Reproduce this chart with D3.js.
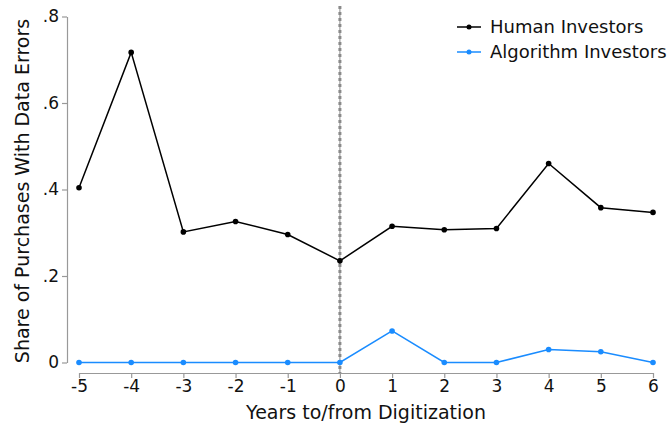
<!DOCTYPE html>
<html>
<head>
<meta charset="utf-8">
<script src="https://cdn.jsdelivr.net/npm/d3@7"></script>
<style>
  html, body { margin: 0; padding: 0; background: #fff; }
  svg { display: block; font-family: "DejaVu Sans", sans-serif; }
</style>
</head>
<body>
<svg id="chart" width="668" height="426"></svg>
<script>
// Event-time years relative to digitization
const years = [-5, -4, -3, -2, -1, 0, 1, 2, 3, 4, 5, 6];
// Share of purchases with data errors
const human = [0.404, 0.717, 0.302, 0.326, 0.296, 0.235, 0.315, 0.307, 0.310, 0.460, 0.358, 0.347];
const algorithm = [0, 0, 0, 0, 0, 0, 0.073, 0, 0, 0.030, 0.025, 0];
const yTicks = [0, 0.2, 0.4, 0.6, 0.8];
const yTickLabels = ["0", ".2", ".4", ".6", ".8"];
const seriesNames = ["Human Investors", "Algorithm Investors"];
const seriesColors = ["#000000", "#1a8cff"];

const svg = d3.select("#chart");
const x = d3.scaleLinear().domain([-5, 6]).range([79, 653]);
const y = d3.scaleLinear().domain([0, 0.8]).range([362.5, 16.5]);

// Y axis
const yAxis = d3.axisLeft(y).tickValues(yTicks)
  .tickFormat((d, i) => yTickLabels[i]).tickSize(5).tickSizeOuter(0);
const gy = svg.append("g").attr("transform", "translate(67,0)").call(yAxis);
gy.select(".domain").attr("stroke", "#999").attr("stroke-width", 1.2);
gy.selectAll(".tick line").attr("stroke", "#999").attr("stroke-width", 1.2);
gy.selectAll(".tick text").attr("font-size", 17).attr("fill", "#111")
  .attr("font-family", "DejaVu Sans").attr("x", -8);

// X axis (plain hyphen for negative years)
const xAxis = d3.axisBottom(x).tickValues(years).tickFormat(d => String(d))
  .tickSize(5).tickSizeOuter(0);
const gx = svg.append("g").attr("transform", "translate(0,373)").call(xAxis);
gx.select(".domain").attr("stroke", "#999").attr("stroke-width", 1.2);
gx.selectAll(".tick line").attr("stroke", "#999").attr("stroke-width", 1.2);
gx.selectAll(".tick text").attr("font-size", 17).attr("fill", "#111")
  .attr("font-family", "DejaVu Sans").attr("y", 7);

// Axis titles
svg.append("text").attr("x", x(0.5)).attr("y", 419).attr("text-anchor", "middle")
  .attr("font-size", 19).attr("fill", "#111").text("Years to/from Digitization");
svg.append("text").attr("transform", "translate(29,191) rotate(-90)")
  .attr("text-anchor", "middle").attr("font-size", 19).attr("fill", "#111")
  .text("Share of Purchases With Data Errors");

// Reference line at digitization
svg.append("line").attr("x1", x(0)).attr("x2", x(0)).attr("y1", 6).attr("y2", 373)
  .attr("stroke", "#8a8a8a").attr("stroke-width", 1);
svg.append("line").attr("x1", x(0)).attr("x2", x(0)).attr("y1", 6).attr("y2", 373)
  .attr("stroke", "#8a8a8a").attr("stroke-width", 3).attr("stroke-dasharray", "3,3");

// Series lines and markers
const line = d3.line().x((d, i) => x(years[i])).y(d => y(d));
[human, algorithm].forEach((vals, k) => {
  svg.append("path").datum(vals).attr("d", line).attr("fill", "none")
    .attr("stroke", seriesColors[k]).attr("stroke-width", 1.5);
  svg.append("g").selectAll("circle").data(vals).join("circle")
    .attr("cx", (d, i) => x(years[i])).attr("cy", d => y(d)).attr("r", 2.8)
    .attr("fill", seriesColors[k]);
});

// Legend
const legend = svg.append("g");
seriesNames.forEach((name, k) => {
  const ly = 27 + k * 25;
  legend.append("line").attr("x1", 457).attr("x2", 481).attr("y1", ly).attr("y2", ly)
    .attr("stroke", seriesColors[k]).attr("stroke-width", 1.5);
  legend.append("circle").attr("cx", 469).attr("cy", ly).attr("r", 2.5)
    .attr("fill", seriesColors[k]);
  legend.append("text").attr("x", 490).attr("y", ly).attr("dy", "0.35em")
    .attr("font-size", 18).attr("fill", "#111").text(name);
});
</script>
</body>
</html>
